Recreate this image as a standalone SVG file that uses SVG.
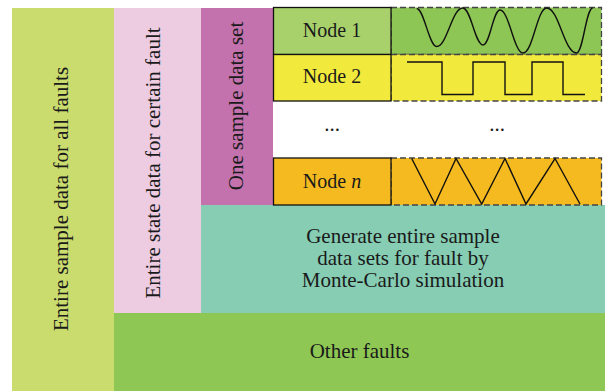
<svg xmlns="http://www.w3.org/2000/svg" width="605" height="391" viewBox="0 0 605 391">
<style>
text{font-family:"Liberation Serif","Times New Roman",serif;font-size:21px;fill:#1a1a1a;text-anchor:middle}
.nt{font-size:20px}
.cell{stroke:#111;stroke-width:1.3}
.wave{stroke:#444;stroke-width:1.3;stroke-dasharray:6 3}
.sig{fill:none;stroke:#111;stroke-width:1.4;stroke-linejoin:miter}
</style>
<rect width="605" height="391" fill="#fff"/>
<g id="all-faults">
<rect x="12" y="8" width="102" height="383" fill="#cbdc6e"/>
<text transform="translate(68,199) rotate(-90)">Entire sample data for all faults</text>
</g>
<g id="certain-fault">
<rect x="114" y="8" width="87" height="305" fill="#edcce2"/>
<text transform="translate(160,163) rotate(-90)">Entire state data for certain fault</text>
</g>
<g id="one-set">
<rect x="201" y="8" width="72" height="197" fill="#c372ad"/>
<text transform="translate(243,106) rotate(-90)">One sample data set</text>
</g>
<g id="monte-carlo">
<rect x="201" y="205" width="404" height="108" fill="#86cdb3"/>
<text x="403" y="242.5">Generate entire sample</text>
<text x="403" y="264.5">data sets for fault by</text>
<text x="403" y="286.7">Monte-Carlo simulation</text>
</g>
<g id="other-faults">
<rect x="114" y="313" width="491" height="78" fill="#8fc754"/>
<text x="359.5" y="358.3">Other faults</text>
</g>
<g id="node1">
<rect class="wave" x="391" y="7.5" width="210.5" height="47" fill="#8dc655"/>
<rect class="cell" x="273.5" y="7.5" width="117.5" height="47" fill="#a8d16b"/>
<text class="nt" x="332" y="36.5">Node 1</text>
<path class="sig" d="M416.7,8.5 C424,8.5 429,46.5 436.7,46.5 C447,46.5 452,8 462.7,8 C471,8 475,45 483,45 C490,45 493,10 500,10 C509,10 514,53 523,53 C533,53 537,8 546.7,8 C559,8 564,53 576.7,53 C583,53 586,8 592.7,8"/>
</g>
<g id="node2">
<rect class="wave" x="391" y="54.5" width="210.5" height="46.5" fill="#f1e93b"/>
<rect class="cell" x="273.5" y="54.5" width="117.5" height="46.5" fill="#f1e93b"/>
<text class="nt" x="332" y="83.3">Node 2</text>
<path class="sig" d="M407,62 H442 V94.5 H473 V62 H505 V94.5 H532 V62 H563 V94.5 H585"/>
</g>
<g id="ellipsis">
<text x="332" y="130.5" font-size="18">...</text>
<text x="497" y="130.5" font-size="18">...</text>
</g>
<g id="noden">
<rect class="wave" x="391" y="158" width="210.5" height="47" fill="#f5ba1f"/>
<rect class="cell" x="273.5" y="158" width="117.5" height="47" fill="#f5ba1f"/>
<text class="nt" x="332" y="187.5">Node <tspan font-style="italic">n</tspan></text>
<path class="sig" d="M411.7,158.5 L435,204 L456,158.5 L481.7,204 L505,158.5 L526,204 L555,158.5 L580,204"/>
</g>
</svg>
